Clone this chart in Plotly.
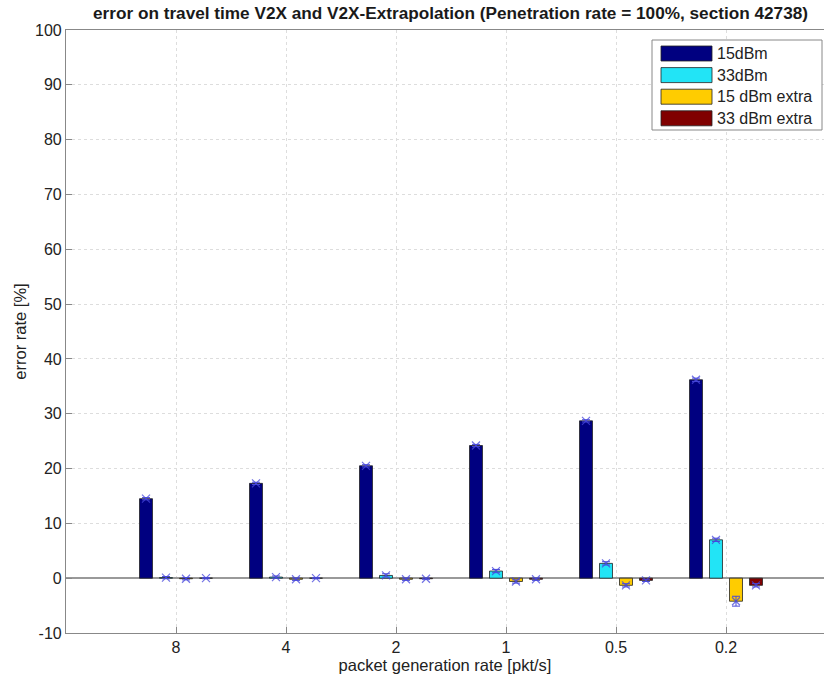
import numpy as np
import plotly.graph_objects as go

categories = ["8", "4", "2", "1", "0.5", "0.2"]
series_names = ["15dBm", "33dBm", "15 dBm extra", "33 dBm extra"]
s15 = [14.5, 17.3, 20.5, 24.2, 28.7, 36.2]
s33 = [0.1, 0.2, 0.5, 1.3, 2.7, 7.0]
s15x = [-0.1, -0.2, -0.2, -0.6, -1.3, -4.2]
s33x = [0.0, 0.0, -0.1, -0.2, -0.4, -1.3]
e15 = [0.2, 0.2, 0.2, 0.2, 0.2, 0.3]
e33 = [0.2, 0.2, 0.3, 0.3, 0.3, 0.3]
e15x = [0.2, 0.2, 0.2, 0.3, 0.3, 0.9]
e33x = [0.1, 0.1, 0.1, 0.2, 0.2, 0.3]
y_ticks = list(range(-10, 101, 10))
y_ticktext = [str(v) for v in y_ticks]
colors = ["#000080", "#22e4f6", "#ffcc00", "#800000"]

values = [s15, s33, s15x, s33x]
errs = [e15, e33, e15x, e33x]

W, H = 824, 682
L, R, T, B = 66, 0, 30, 49
PW, PH = W - L - R, H - T - B

pos = np.arange(1, len(categories) + 1)
unit = 110  # px per category
slot = 20 / unit
bw = 0.118
offsets = (np.arange(4) - 1.5) * slot

fig = go.Figure()
for j in range(4):
    xs = pos + offsets[j]
    fig.add_trace(go.Bar(
        x=xs, y=values[j], width=bw, name=series_names[j],
        marker=dict(color=colors[j], line=dict(color="#222222", width=0.8)),
        error_y=dict(type="data", array=errs[j], color="#4a4ad8", thickness=1, width=4),
        showlegend=False,
    ))
    fig.add_trace(go.Scatter(
        x=xs, y=values[j], mode="markers",
        marker=dict(symbol="x-thin", size=8, line=dict(color="rgba(70,70,220,0.75)", width=1.2)),
        showlegend=False, hoverinfo="skip",
    ))

fig.update_layout(
    width=W, height=H,
    margin=dict(l=L, r=R, t=T, b=B),
    paper_bgcolor="white", plot_bgcolor="white",
    barmode="overlay",
    font=dict(family="Liberation Sans, Arial, sans-serif", color="#222222"),
    title=dict(text="<b>error on travel time V2X and V2X-Extrapolation (Penetration rate = 100%, section 42738)</b>",
               x=450.5 / W, xanchor="center", y=1 - 13 / H, yanchor="middle",
               font=dict(size=17.2, color="#1a1a1a")),
    showlegend=False,
)
fig.update_xaxes(
    range=[0, PW / unit], tickvals=pos, ticktext=categories,
    showgrid=True, gridcolor="#dddddd", griddash="dot", gridwidth=1,
    ticks="inside", ticklen=6, tickcolor="#888888",
    showline=True, linecolor="#888888", linewidth=1.2, mirror=True,
    tickfont=dict(size=16, color="#222222"),
    title=dict(text="packet generation rate [pkt/s]", font=dict(size=16.5, color="#222222"), standoff=4),
    zeroline=False,
)
fig.update_yaxes(
    range=[-10, 100], tickvals=y_ticks, ticktext=y_ticktext,
    showgrid=True, gridcolor="#dddddd", griddash="dot", gridwidth=1,
    ticks="inside", ticklen=6, tickcolor="#888888",
    showline=True, linecolor="#888888", linewidth=1.2, mirror=True,
    tickfont=dict(size=16, color="#222222"),
    title=dict(text="error rate [%]", font=dict(size=16.5, color="#222222"), standoff=4),
    zeroline=True, zerolinecolor="#999999", zerolinewidth=1.5,
)

# legend (page pixel positions converted to paper coords)
def px(x):
    return (x - L) / PW

def py(y):
    return (H - B - y) / PH

fig.add_shape(type="rect", xref="paper", yref="paper", x0=px(652), x1=px(822),
              y0=py(130), y1=py(40), line=dict(color="#888888", width=1),
              fillcolor="white", layer="above")
for j, name in enumerate(series_names):
    yc = 53.5 + j * 21.6
    fig.add_shape(type="rect", xref="paper", yref="paper",
                  x0=px(661), x1=px(712), y0=py(yc + 7.5), y1=py(yc - 7.5),
                  line=dict(color="#222222", width=0.8), fillcolor=colors[j], layer="above")
    fig.add_annotation(xref="paper", yref="paper", x=px(715), y=py(yc),
                       text=name, showarrow=False, xanchor="left", yanchor="middle",
                       font=dict(size=16, color="#222222"))

fig.write_html("out.html", config={"displayModeBar": False},
               post_script="document.body.style.margin='0px';")
